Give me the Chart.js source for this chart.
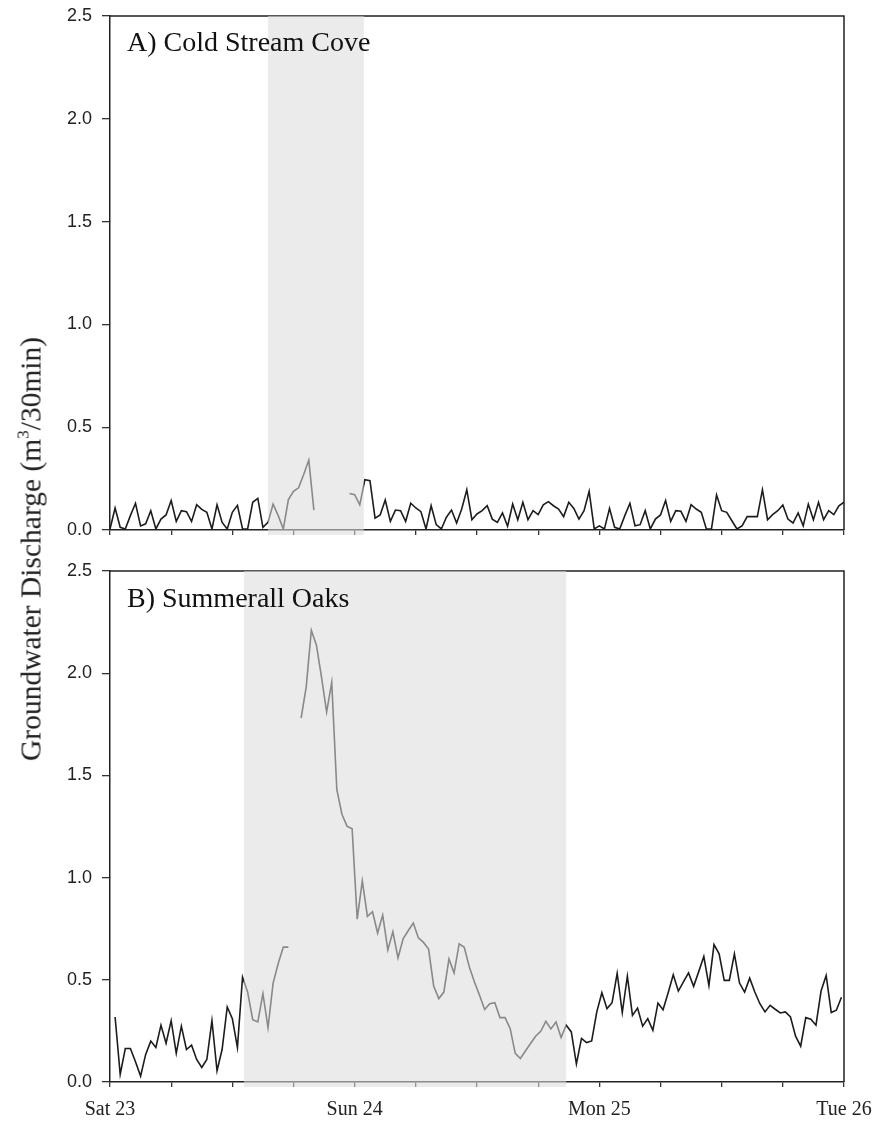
<!DOCTYPE html>
<html>
<head>
<meta charset="utf-8">
<script src="https://cdn.jsdelivr.net/npm/chart.js@4.4.1/dist/chart.umd.min.js"></script>
<style>
  html, body { margin: 0; padding: 0; background: #fff; }
  #wrap { position: relative; width: 873px; height: 1127px; overflow: hidden; }
  canvas { position: absolute; left: 0; }
  #cA { top: 0; }
  #cB { top: 555px; }
  .plab { position: absolute; font-family: "Liberation Serif", "Times New Roman", serif;
          font-size: 28px; line-height: 28px; color: #111; white-space: nowrap; }
  #ytitle { position: absolute; left: 31px; top: 549px; transform: translate(-50%, -50%) rotate(-90deg);
            font-family: "Liberation Serif", "Times New Roman", serif; font-size: 29.5px; color: #222;
            white-space: nowrap; }
  #ytitle sup { font-size: 17px; vertical-align: 12px; line-height: 0; }
</style>
</head>
<body>
<div id="wrap">
  <canvas id="cA" width="873" height="545"></canvas>
  <canvas id="cB" width="873" height="572"></canvas>
  <div class="plab" style="left:127px; top:28px;">A) Cold Stream Cove</div>
  <div class="plab" style="left:127px; top:584px;">B) Summerall Oaks</div>
  <div id="ytitle">Groundwater Discharge (m<sup>3</sup>/30min)</div>
</div>
<script>
// Half-hourly groundwater discharge, m3 per 30 min, starting Sat 23 00:00
const stepHours = 0.5;

const coldStreamCove = [
  0.005, 0.107, 0.013, 0.005, 0.07, 0.13, 0.02, 0.03, 0.094, 0.005,
  0.053, 0.073, 0.143, 0.042, 0.094, 0.089, 0.042, 0.123, 0.10, 0.086,
  0.005, 0.123, 0.037, 0.005, 0.086, 0.12, 0.005, 0.005, 0.135, 0.154,
  0.013, 0.037, 0.126, 0.07, 0.005, 0.148, 0.188, 0.205, 0.27, 0.34,
  0.097, null, null, null, null, null, null, 0.178, 0.172, 0.122,
  0.245, 0.24, 0.058, 0.073, 0.146, 0.042, 0.097, 0.094, 0.042, 0.13,
  0.107, 0.089, 0.005, 0.118, 0.026, 0.005, 0.062, 0.097, 0.034, 0.102,
  0.196, 0.05, 0.078, 0.094, 0.118, 0.053, 0.037, 0.083, 0.018, 0.126,
  0.05, 0.135, 0.05, 0.094, 0.075, 0.122, 0.138, 0.118, 0.102, 0.065,
  0.135, 0.105, 0.053, 0.094, 0.188, 0.005, 0.02, 0.005, 0.105, 0.013,
  0.005, 0.07, 0.13, 0.02, 0.026, 0.094, 0.005, 0.053, 0.073, 0.143,
  0.042, 0.094, 0.091, 0.042, 0.123, 0.102, 0.086, 0.005, 0.005, 0.17,
  0.094, 0.086, 0.045, 0.005, 0.02, 0.065, 0.065, 0.065, 0.196, 0.05,
  0.075, 0.094, 0.122, 0.053, 0.034, 0.083, 0.02, 0.126, 0.05, 0.135,
  0.05, 0.094, 0.075, 0.118, 0.135
];

// Summerall Oaks: record before the logger gap (from 00:00)
const summerallEarly = [
  null, 0.318, 0.037, 0.164, 0.164, 0.099, 0.029, 0.135, 0.20, 0.169,
  0.278, 0.19, 0.30, 0.14, 0.273, 0.159, 0.18, 0.11, 0.071, 0.11,
  0.30, 0.055, 0.16, 0.367, 0.31, 0.169, 0.513, 0.44, 0.305, 0.294,
  0.432, 0.266, 0.484, 0.58, 0.66, 0.66
];

// Summerall Oaks: record after the gap, first reading at 18:45
const summerallLateStart = 18.75;
const summerallLate = [
  1.78, 1.934, 2.21, 2.137, 1.98, 1.81, 1.955, 1.43, 1.31, 1.252,
  1.239, 0.797, 0.984, 0.81, 0.833, 0.729, 0.817, 0.646, 0.735, 0.607,
  0.70, 0.74, 0.778, 0.705, 0.683, 0.65, 0.47, 0.408, 0.44, 0.602,
  0.534, 0.676, 0.659, 0.562, 0.489, 0.424, 0.355, 0.383, 0.388, 0.315,
  0.315, 0.262, 0.14, 0.115, 0.152, 0.188, 0.224, 0.248, 0.297, 0.26,
  0.294, 0.218, 0.278, 0.245, 0.088, 0.213, 0.193, 0.201, 0.343, 0.437,
  0.359, 0.388, 0.532, 0.34, 0.518, 0.326, 0.362, 0.273, 0.31, 0.253,
  0.386, 0.353, 0.437, 0.525, 0.445, 0.49, 0.534, 0.468, 0.54, 0.614,
  0.472, 0.672, 0.627, 0.497, 0.497, 0.627, 0.484, 0.44, 0.508, 0.44,
  0.383, 0.343, 0.375, 0.356, 0.338, 0.343, 0.318, 0.224, 0.175, 0.315,
  0.307, 0.278, 0.445, 0.521, 0.34, 0.351, 0.415
];

// Rain event windows (hours since Sat 23 00:00)
const eventA = [15.5, 24.9];
const eventB = [13.15, 44.75];

const dayLabels = ['Sat 23', 'Sun 24', 'Mon 25', 'Tue 26'];
const xTickHours = [0, 6, 12, 18, 24, 30, 36, 42, 48, 54, 60, 66, 72];
const yTickValues = [0, 0.5, 1.0, 1.5, 2.0, 2.5];

function toPoints(values, start) {
  return values.map((v, i) => ({ x: start + i * stepHours, y: v }));
}

const pointsA = toPoints(coldStreamCove, 0);
const pointsB = toPoints(summerallEarly, 0)
  .concat([{ x: (summerallLateStart + 17.5) / 2, y: null }])
  .concat(toPoints(summerallLate, summerallLateStart));

// Top and right edges of the plot box
const framePlugin = {
  id: 'frame',
  beforeDatasetsDraw(chart) {
    const { ctx, chartArea: a } = chart;
    ctx.save();
    ctx.strokeStyle = '#222';
    ctx.lineWidth = 1.5;
    ctx.beginPath();
    ctx.moveTo(a.left, a.top);
    ctx.lineTo(a.right, a.top);
    ctx.lineTo(a.right, a.bottom);
    ctx.stroke();
    ctx.restore();
  }
};

// Translucent band over the event window, laid over the trace
const eventPlugin = {
  id: 'eventBand',
  afterDatasetsDraw(chart, args, opts) {
    const { ctx, chartArea: a, scales: { x } } = chart;
    const x0 = x.getPixelForValue(opts.from);
    const x1 = x.getPixelForValue(opts.to);
    ctx.save();
    ctx.fillStyle = 'rgba(219,219,219,0.57)';
    ctx.fillRect(x0, a.top, x1 - x0, a.bottom - a.top + 5);
    ctx.restore();
  }
};

// Keep the plot box fixed: no extra room reserved for overhanging tick labels
function noOverhang(s) {
  s.paddingLeft = 0;
  s.paddingRight = 0;
  s.paddingTop = 0;
  s.paddingBottom = 0;
}

function makeChart(id, points, band, showDays, xAxisHeight) {
  return new Chart(document.getElementById(id), {
    type: 'line',
    data: {
      datasets: [{
        data: points,
        borderColor: '#1c1c1c',
        borderWidth: 1.6,
        pointRadius: 0,
        tension: 0,
        spanGaps: false
      }]
    },
    options: {
      responsive: false,
      animation: false,
      devicePixelRatio: 1,
      layout: { padding: { top: 16, right: 29, left: 0, bottom: 0 } },
      plugins: {
        legend: { display: false },
        tooltip: { enabled: false },
        eventBand: band
      },
      scales: {
        x: {
          type: 'linear',
          min: 0,
          max: 72,
          afterBuildTicks: s => { s.ticks = xTickHours.map(v => ({ value: v })); },
          afterFit: s => { s.height = xAxisHeight; noOverhang(s); },
          ticks: {
            autoSkip: false,
            maxRotation: 0,
            padding: 11,
            color: '#222',
            font: { family: '"Liberation Serif", "Times New Roman", serif', size: 20 },
            callback: v => (showDays && v % 24 === 0) ? dayLabels[v / 24] : ''
          },
          grid: { drawOnChartArea: false, drawTicks: true, tickLength: 5, color: '#333', lineWidth: 1.3 },
          border: { display: true, color: '#222', width: 1.5 }
        },
        y: {
          min: 0,
          max: 2.5,
          afterBuildTicks: s => { s.ticks = yTickValues.map(v => ({ value: v })); },
          afterFit: s => { s.width = 110; noOverhang(s); },
          ticks: {
            padding: 10,
            color: '#222',
            font: { family: '"Liberation Sans", Arial, sans-serif', size: 18 },
            callback: v => v.toFixed(1)
          },
          grid: { drawOnChartArea: false, drawTicks: true, tickLength: 8, color: '#333', lineWidth: 1.3 },
          border: { display: true, color: '#222', width: 1.5 }
        }
      }
    },
    plugins: [framePlugin, eventPlugin]
  });
}

makeChart('cA', pointsA, { from: eventA[0], to: eventA[1] }, false, 15);
makeChart('cB', pointsB, { from: eventB[0], to: eventB[1] }, true, 45);
</script>
</body>
</html>
